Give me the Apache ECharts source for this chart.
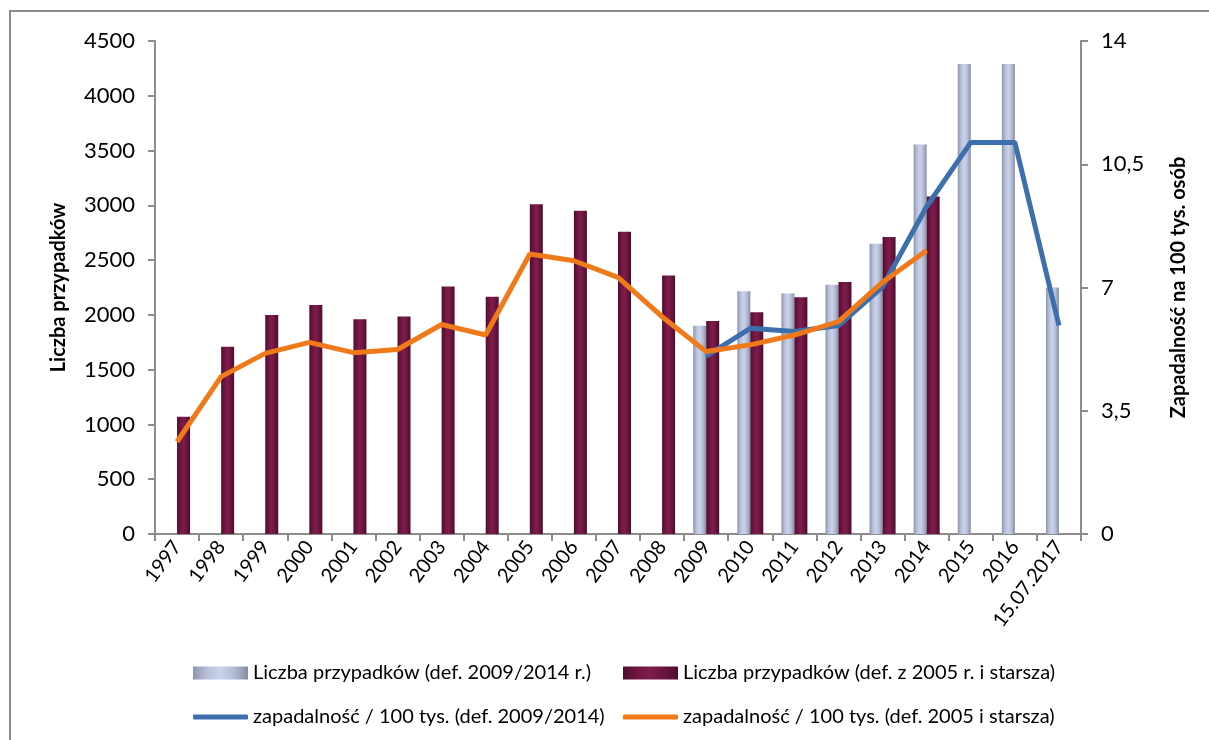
<!DOCTYPE html>
<html>
<head>
<meta charset="utf-8">
<script src="https://cdn.jsdelivr.net/npm/echarts@6/dist/echarts.min.js"></script>
<style>html,body{margin:0;padding:0;background:#fff}#c{width:1209px;height:740px}</style>
</head>
<body>
<div id="c"></div>
<script>
const categories = ['1997','1998','1999','2000','2001','2002','2003','2004','2005','2006','2007','2008','2009','2010','2011','2012','2013','2014','2015','2016','15.07.2017'];
const casesNew = [null,null,null,null,null,null,null,null,null,null,null,null,1900,2215,2195,2275,2650,3555,4290,4290,2250];
const casesOld = [1070,1710,2000,2090,1960,1985,2260,2165,3010,2950,2760,2360,1945,2025,2160,2300,2710,3080,null,null,null];
const rateNew = [null,null,null,null,null,null,null,null,null,null,null,null,5.05,5.84,5.75,5.92,7.02,9.30,11.12,11.12,5.92];
const rateOld = [2.62,4.47,5.13,5.44,5.15,5.24,5.95,5.65,7.95,7.76,7.29,6.17,5.18,5.37,5.65,6.03,7.15,8.05,null,null,null];
const leftTicks = [0,500,1000,1500,2000,2500,3000,3500,4000,4500];
const rightTicks = [0,3.5,7,10.5,14];

const FONT = 'Lato';
const grad = (stops) => new echarts.graphic.LinearGradient(0,0,1,0, stops.map((c,i)=>({offset:i/(stops.length-1), color:c})));
const blueFill = grad(['#8c94aa','#b6c0d8','#cbd3ea','#b2bcd4','#848ca2']);
const maroonFill = grad(['#4f0c2e','#6e153f','#7e1d4c','#6a1440','#4c0b2c']);

const chart = echarts.init(document.getElementById('c'), null, {renderer:'canvas'});
const legendBase = {orient:'horizontal', itemWidth:55, itemHeight:13, itemGap:10,
  textStyle:{fontFamily:FONT, fontSize:20, color:'#000'}, selectedMode:false};
chart.setOption({
  animation:false,
  backgroundColor:'#fff',
  textStyle:{fontFamily:FONT},
  graphic:[{type:'rect', shape:{x:10,y:11,width:1210,height:740}, style:{fill:'none', stroke:'#8c8c8c', lineWidth:2}, silent:true}],
  grid:{left:155, right:128, top:41, bottom:206, containLabel:false},
  legend:[
    Object.assign({}, legendBase, {data:[{name:'Liczba przypadków (def. 2009/2014 r.)', icon:'rect'}], left:188, top:658}),
    Object.assign({}, legendBase, {data:[{name:'Liczba przypadków (def. z 2005 r. i starsza)', icon:'rect'}], left:618, top:658}),
    Object.assign({}, legendBase, {data:[{name:'zapadalność / 100 tys. (def. 2009/2014)', icon:'roundRect', itemStyle:{color:'#3d6fae'}}], left:188, top:702, itemHeight:5}),
    Object.assign({}, legendBase, {data:[{name:'zapadalność / 100 tys. (def. 2005 i starsza)', icon:'roundRect', itemStyle:{color:'#f07a1a'}}], left:618, top:702, itemHeight:5})
  ],
  xAxis:{type:'category', data:categories,
    axisLine:{lineStyle:{color:'#8c8c8c', width:2}},
    axisTick:{show:true, length:7, lineStyle:{color:'#8c8c8c', width:2}},
    axisLabel:{rotate:53, fontSize:20, color:'#000', fontFamily:FONT, margin:9, interval:0}},
  yAxis:[
    {type:'value', min:0, max:4500, interval:500, position:'left',
     name:'Liczba przypadków', nameLocation:'middle', nameGap:86, nameRotate:90,
     nameTextStyle:{fontFamily:FONT, fontSize:20, fontWeight:'bold', color:'#000'},
     axisLine:{show:true, lineStyle:{color:'#8c8c8c', width:2}},
     axisTick:{show:true, length:7, lineStyle:{color:'#8c8c8c', width:2}},
     splitLine:{show:false},
     axisLabel:{fontSize:22, color:'#000', fontFamily:FONT, margin:20,
       formatter:(v)=> leftTicks.includes(v) ? String(v) : ''}},
    {type:'value', min:0, max:14, interval:3.5, position:'right',
     name:'Zapadalność na 100 tys. osób', nameLocation:'middle', nameGap:88, nameRotate:90,
     nameTextStyle:{fontFamily:FONT, fontSize:20, fontWeight:'bold', color:'#000'},
     axisLine:{show:true, lineStyle:{color:'#8c8c8c', width:2}},
     axisTick:{show:true, length:7, lineStyle:{color:'#8c8c8c', width:2}},
     splitLine:{show:false},
     axisLabel:{fontSize:22, color:'#000', fontFamily:FONT, margin:20,
       formatter:(v)=> rightTicks.includes(v) ? String(v).replace('.', ',') : ''}}
  ],
  series:[
    {name:'Liczba przypadków (def. 2009/2014 r.)', type:'bar', data:casesNew, yAxisIndex:0,
     barWidth:13, barGap:'0%', itemStyle:{color:blueFill}},
    {name:'Liczba przypadków (def. z 2005 r. i starsza)', type:'bar', data:casesOld, yAxisIndex:0,
     barWidth:13, barGap:'0%', itemStyle:{color:maroonFill}},
    {name:'zapadalność / 100 tys. (def. 2009/2014)', type:'line', data:rateNew, yAxisIndex:1,
     showSymbol:false, symbol:'none', lineStyle:{color:'#3d6fae', width:5}, itemStyle:{color:'#3d6fae'}},
    {name:'zapadalność / 100 tys. (def. 2005 i starsza)', type:'line', data:rateOld, yAxisIndex:1,
     showSymbol:false, symbol:'none', lineStyle:{color:'#f07a1a', width:5}, itemStyle:{color:'#f07a1a'}}
  ]
});
</script>
</body>
</html>
